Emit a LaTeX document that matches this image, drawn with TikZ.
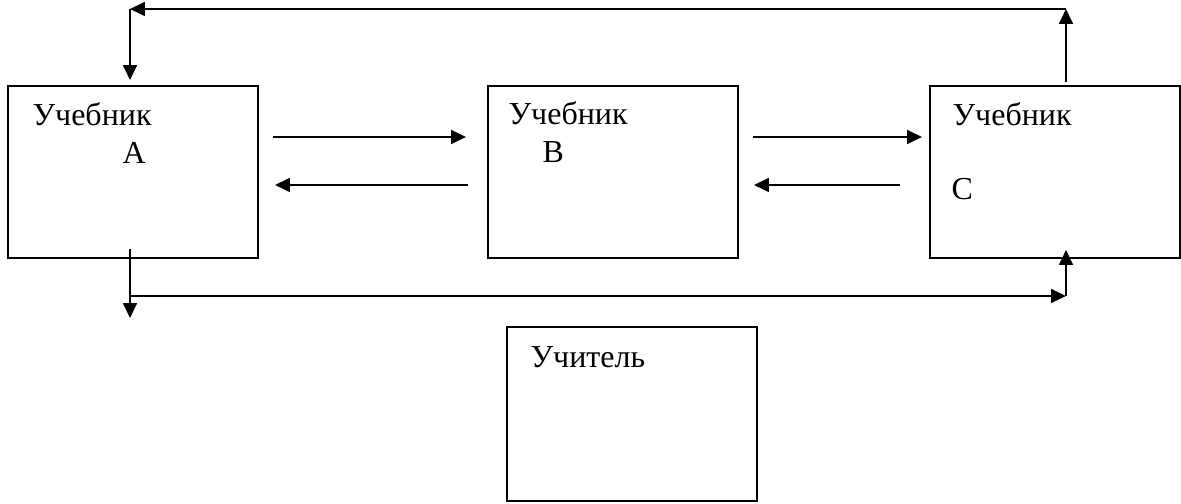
\documentclass[tikz,border=0pt]{standalone}
\usepackage{fontspec}
\setmainfont{Liberation Serif}
\usetikzlibrary{positioning, arrows.meta}

\tikzset{
    book/.style={draw, line width=0.75pt, rectangle, inner sep=0pt, outer sep=0pt,
                 minimum width=93.75pt, minimum height=64.5pt},
    label text/.style={anchor=base west, inner sep=0pt, font=\fontsize{12pt}{14pt}\selectfont},
    arr/.style={line width=0.75pt, -{Triangle[length=5.6pt, width=5.2pt]}}
}

\begin{document}
\begin{tikzpicture}[x=0.375pt, y=-0.375pt]
    \useasboundingbox (0,0) rectangle (1181,504);

    \node[book] (ba) at (133,172) {};
    \node[book, right=86.25pt of ba] (bb) {};
    \node[book, right=72pt of bb] (bc) {};
    \node[book, minimum height=65.25pt] (ut) at (632,414) {};

    \node[label text] (ta) at (32,126) {Учебник};
    \node[label text] (la) at (122,164) {A};
    \node[label text] (tb) at (508,125) {Учебник};
    \node[label text] (lb) at (542,163) {B};
    \node[label text] (tc) at (952,126) {Учебник};
    \node[label text] (lc) at (951,200) {C};
    \node[label text] (tu) at (530,368) {Учитель};

    \coordinate (ctop) at (1066,82);
    \coordinate (tr) at (1066,9);
    \coordinate (tl) at (130,9);
    \coordinate (atop) at (130,80);
    \coordinate (abot) at (130,249);
    \coordinate (adown) at (130,318);
    \coordinate (bl) at (130,296);
    \coordinate (br) at (1066,296);
    \coordinate (cbot) at (1066,250);
    \coordinate (ab1) at (273,137);
    \coordinate (ab2) at (466,137);
    \coordinate (ba1) at (468,185);
    \coordinate (ba2) at (275,185);
    \coordinate (bc1) at (753,137);
    \coordinate (bc2) at (922,137);
    \coordinate (cb1) at (900,185);
    \coordinate (cb2) at (754,185);

    \draw[arr] (ctop) -- (tr);
    \draw[arr] (tr) -- (tl);
    \draw[arr] (tl) -- (atop);
    \draw[arr] (abot) -- (adown);
    \draw[arr] (bl) -- (br);
    \draw[arr] (br) -- (cbot);
    \draw[arr] (ab1) -- (ab2);
    \draw[arr] (ba1) -- (ba2);
    \draw[arr] (bc1) -- (bc2);
    \draw[arr] (cb1) -- (cb2);
\end{tikzpicture}
\end{document}
